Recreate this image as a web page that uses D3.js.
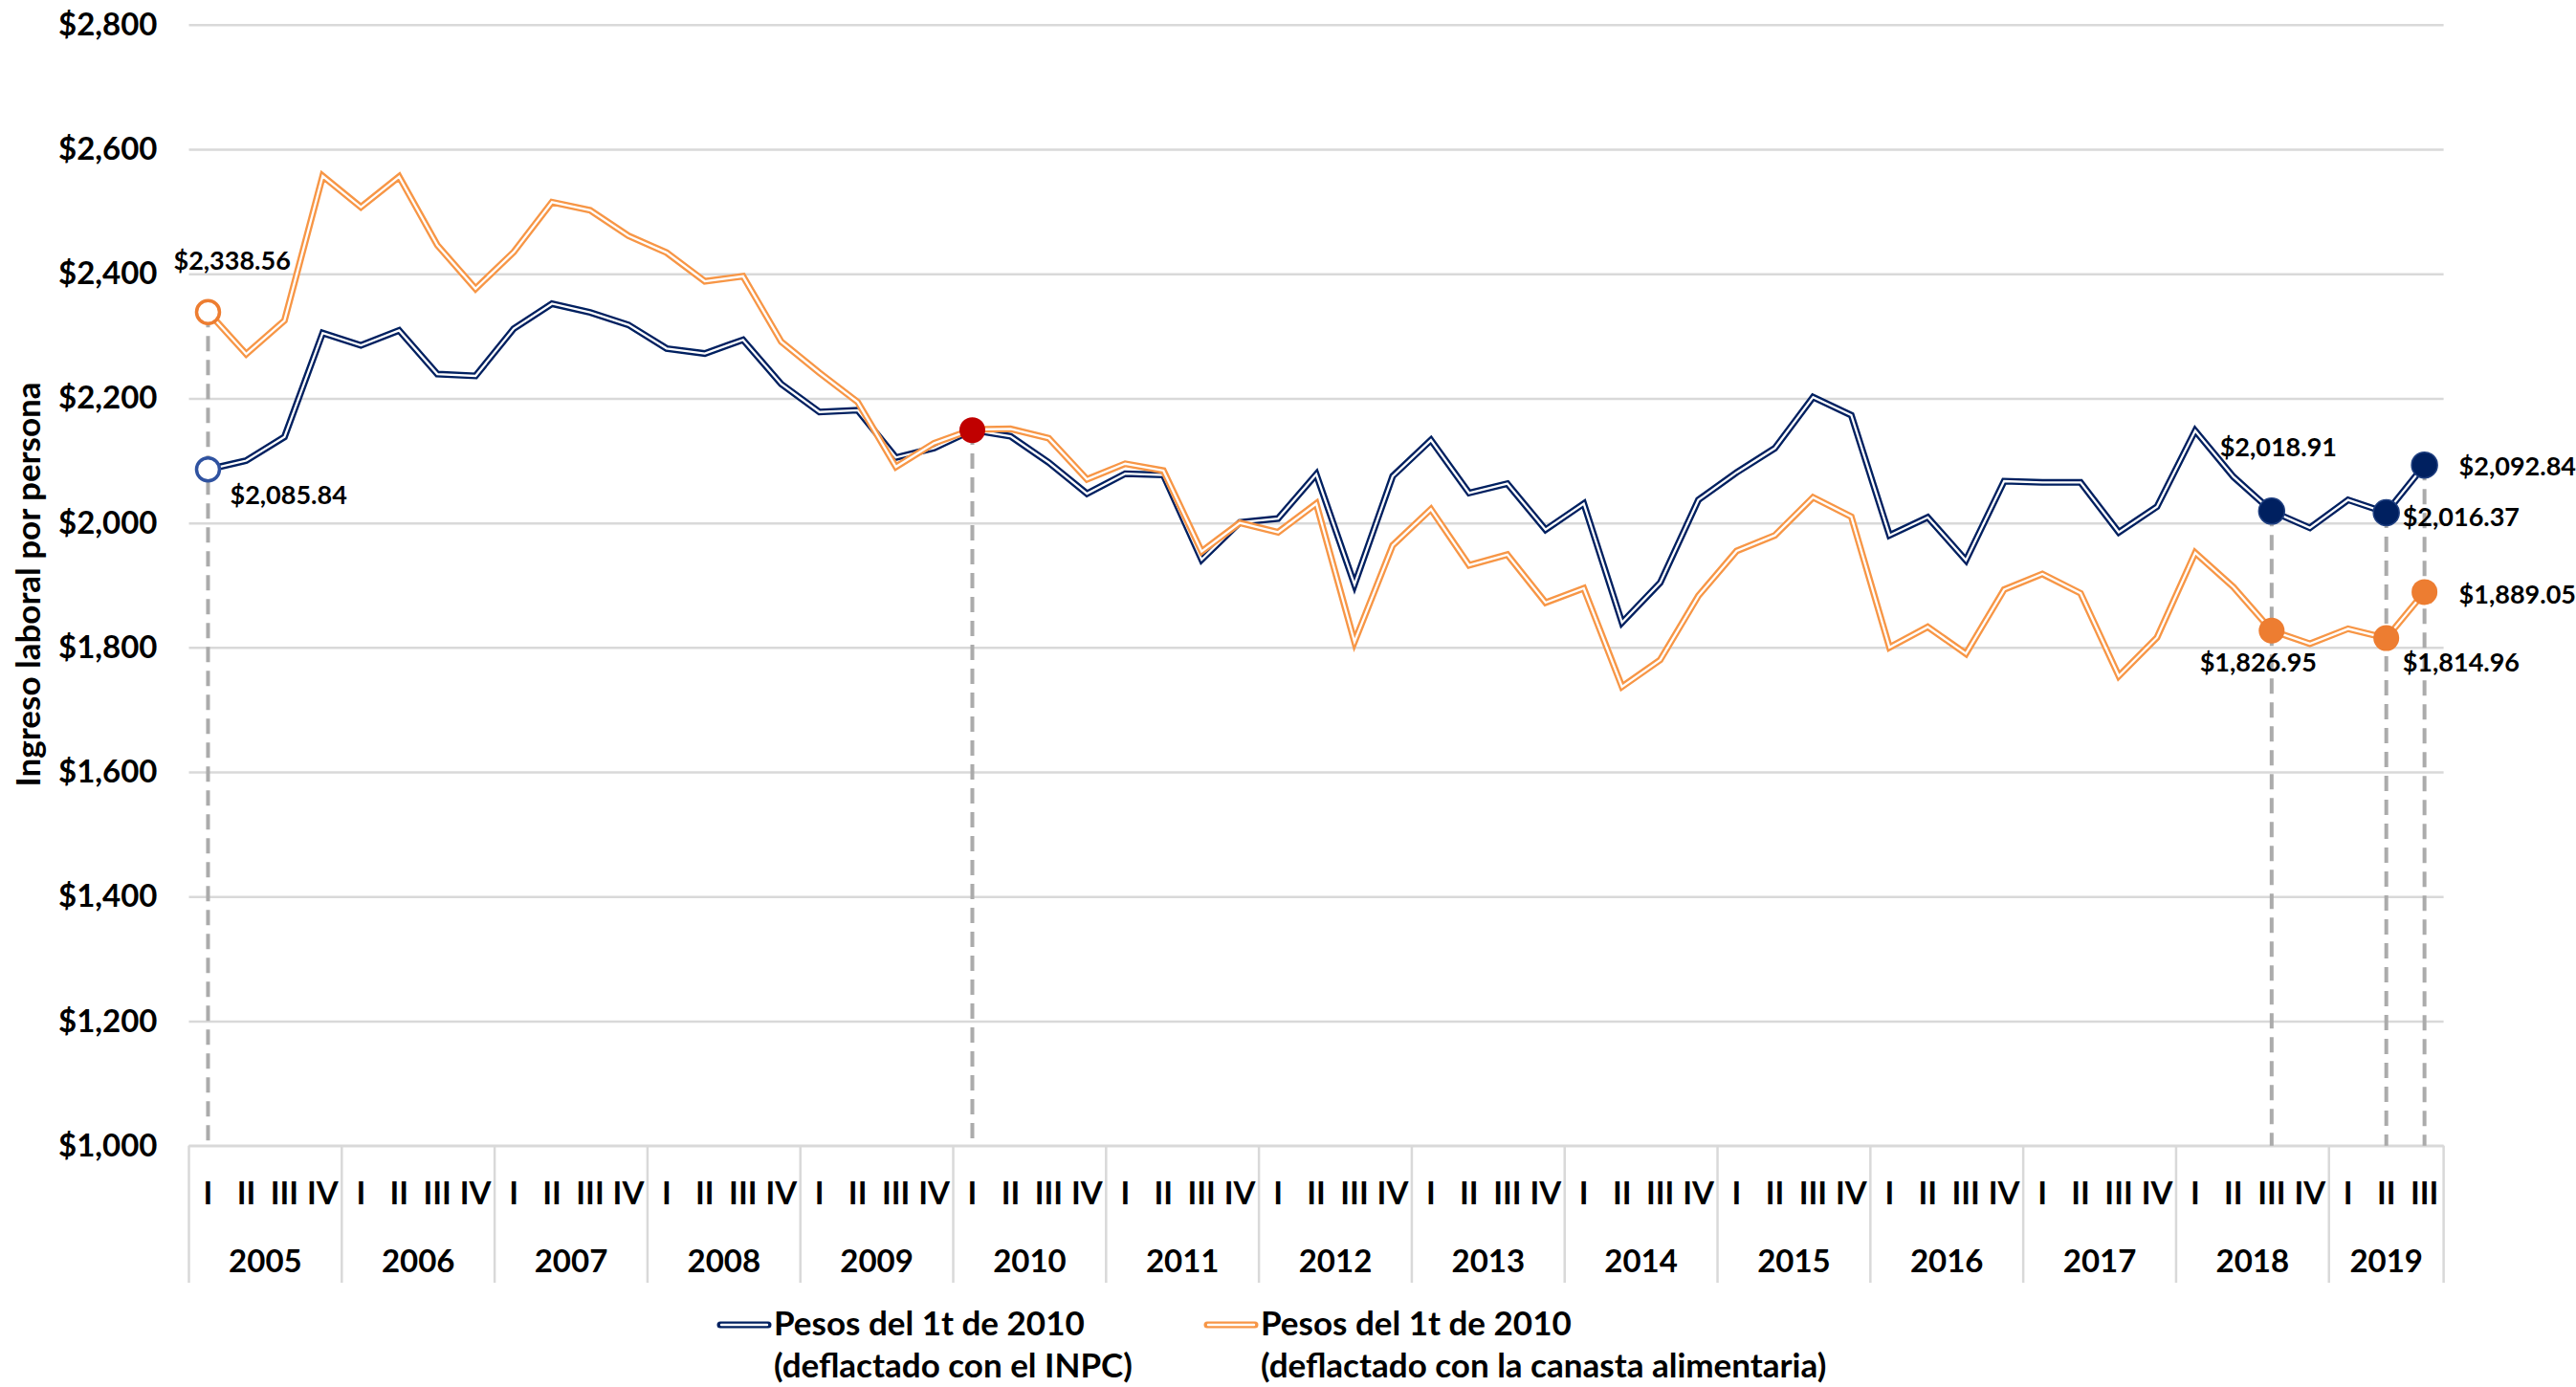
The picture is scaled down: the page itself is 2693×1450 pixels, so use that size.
<!DOCTYPE html>
<html>
<head>
<meta charset="utf-8">
<script src="https://cdn.jsdelivr.net/npm/d3@7"></script>
<style>
  html, body { margin: 0; padding: 0; background: #fff; }
  svg { display: block; font-family: Lato, 'Open Sans', sans-serif; font-weight: 700; }
</style>
</head>
<body>
<div id="chart"></div>
<script>
// categories
const years = [2005, 2006, 2007, 2008, 2009, 2010, 2011, 2012, 2013, 2014, 2015, 2016, 2017, 2018, 2019];
const quarters = ['I', 'II', 'III', 'IV'];
const lastYearQuarters = 3; // 2019 only up to III

// series (pesos del 1t de 2010)
const inpc = [
  2085.84, 2100, 2138, 2305, 2285, 2309, 2239, 2236, 2312, 2352, 2338, 2318,
  2280, 2272, 2294, 2223, 2178, 2181, 2105, 2120, 2149, 2139, 2097, 2047,
  2079, 2077, 1941, 2001, 2007, 2078, 1901, 2075, 2133, 2048, 2063, 1989,
  2031, 1840, 1904, 2037, 2081, 2120, 2202, 2173, 1980, 2009, 1940, 2067,
  2065, 2065, 1985, 2026, 2148, 2074, 2018.91, 1992, 2037, 2016.37, 2092.84
];
const canasta = [
  2338.56, 2271, 2325, 2557, 2507, 2556, 2446, 2376, 2435, 2515, 2502, 2461,
  2434, 2388, 2396, 2291, 2241, 2194, 2090, 2128, 2150, 2151, 2136, 2070,
  2095, 2084, 1954, 2000, 1985, 2031, 1809, 1964, 2022, 1932, 1949, 1872,
  1895, 1737, 1780, 1883, 1955, 1980, 2041, 2010, 1800, 1833, 1790, 1893,
  1918, 1887, 1754, 1816, 1952, 1897, 1826.95, 1806, 1830, 1814.96, 1889.05
];

// highlighted periods
const startIdx = [0];
const baseIdx = [20];
const recentIdx = [54, 57, 58];

// y ticks
const yTicks = [1000, 1200, 1400, 1600, 1800, 2000, 2200, 2400, 2600, 2800];

const legendLines = [
  ['Pesos del 1t de 2010', '(deflactado con el INPC)'],
  ['Pesos del 1t de 2010', '(deflactado con la canasta alimentaria)']
];

let width = 2693,
    height = 1450;

let plotLeft = 197.5,
    plotRight = 2554.6,
    plotTop = 25.8,
    plotBottom = 1197.7;

const navy = '#002060',
      orangeLine = '#F79646',
      orangeMark = '#ED7D31';

let periods = [];
years.forEach(function(yr, yi) {
  let nq = yi === years.length - 1 ? lastYearQuarters : 4;
  for (let q = 0; q < nq; q++) periods.push({ year: yr, q: quarters[q] });
});

let x = d3.scaleBand()
  .domain(d3.range(periods.length))
  .range([plotLeft, plotRight])
  .paddingInner(0).paddingOuter(0);

let cx = function(i) { return x(i) + x.bandwidth() / 2; };

let y = d3.scaleLinear()
  .domain([1000, 2800])
  .range([plotBottom, plotTop]);

let money = function(v) { return '$' + d3.format(',.2f')(v); };

let svg = d3.select('#chart').append('svg')
  .attr('width', width)
  .attr('height', height);

svg.append('rect').attr('width', width).attr('height', height).attr('fill', '#fff');

// gridlines
let grid = svg.append('g')
  .attr('transform', 'translate(' + plotLeft + ',0)')
  .call(d3.axisLeft(y).tickValues(yTicks).tickSize(-(plotRight - plotLeft)).tickFormat(''));
grid.select('.domain').remove();
grid.selectAll('line').attr('stroke', '#D9D9D9').attr('stroke-width', 2.5);

// y axis labels
let yAxis = svg.append('g')
  .attr('transform', 'translate(' + plotLeft + ',0)')
  .call(d3.axisLeft(y).tickValues(yTicks).tickSize(0).tickPadding(33)
    .tickFormat(function(d) { return '$' + d3.format(',')(d); }));
yAxis.select('.domain').remove();
yAxis.selectAll('text')
  .attr('font-size', 33)
  .attr('font-family', 'Lato, sans-serif')
  .attr('font-weight', 700)
  .attr('fill', '#000');

svg.append('text')
  .attr('transform', 'translate(42,611) rotate(-90)')
  .attr('text-anchor', 'middle')
  .attr('font-size', 35)
  .attr('fill', '#000')
  .text('Ingreso laboral por persona');

// category axis box
let catBottom = 1341;
svg.append('line')
  .attr('x1', plotLeft).attr('x2', plotRight)
  .attr('y1', plotBottom).attr('y2', plotBottom)
  .attr('stroke', '#D9D9D9').attr('stroke-width', 2.5);

let yearStarts = [];
periods.forEach(function(p, i) { if (p.q === 'I') yearStarts.push(i); });

svg.append('g').selectAll('line')
  .data(yearStarts.concat([periods.length]))
  .enter().append('line')
    .attr('x1', function(i) { return i < periods.length ? x(i) : plotRight; })
    .attr('x2', function(i) { return i < periods.length ? x(i) : plotRight; })
    .attr('y1', plotBottom).attr('y2', catBottom)
    .attr('stroke', '#D9D9D9').attr('stroke-width', 2.5);

let xAxis = svg.append('g')
  .attr('transform', 'translate(0,' + plotBottom + ')')
  .call(d3.axisBottom(x).tickSize(0).tickPadding(0)
    .tickFormat(function(i) { return periods[i].q; }));
xAxis.select('.domain').remove();
xAxis.selectAll('text')
  .attr('y', 61)
  .attr('dy', 0)
  .attr('font-size', 33)
  .attr('font-family', 'Lato, sans-serif')
  .attr('font-weight', 700)
  .attr('fill', '#000');

svg.append('g').selectAll('text')
  .data(yearStarts)
  .enter().append('text')
    .attr('x', function(i, k) {
      let end = k + 1 < yearStarts.length ? yearStarts[k + 1] : periods.length;
      return (x(i) + (end < periods.length ? x(end) : plotRight)) / 2;
    })
    .attr('y', 1330)
    .attr('text-anchor', 'middle')
    .attr('font-size', 33)
    .text(function(i) { return periods[i].year; });

// dashed guides
let guideIdx = startIdx.concat(baseIdx, recentIdx);
svg.append('g').selectAll('line')
  .data(guideIdx)
  .enter().append('line')
    .attr('x1', cx).attr('x2', cx)
    .attr('y1', function(i) { return y(Math.max(inpc[i], canasta[i])); })
    .attr('y2', plotBottom)
    .attr('stroke', '#ABABAB')
    .attr('stroke-width', 4)
    .attr('stroke-dasharray', '16 9');

// double lines
let line = d3.line()
  .x(function(d, i) { return cx(i); })
  .y(function(d) { return y(d); });

function doubleLine(values, color) {
  let g = svg.append('g');
  g.append('path')
    .attr('d', line(values))
    .attr('fill', 'none')
    .attr('stroke', color)
    .attr('stroke-width', 7)
    .attr('stroke-linejoin', 'miter');
  g.append('path')
    .attr('d', line(values))
    .attr('fill', 'none')
    .attr('stroke', '#fff')
    .attr('stroke-width', 2.3)
    .attr('stroke-linejoin', 'miter');
}

doubleLine(inpc, navy);
doubleLine(canasta, orangeLine);

// markers
let marks = svg.append('g');

marks.selectAll('.start-inpc')
  .data(startIdx)
  .enter().append('circle')
    .attr('cx', cx).attr('cy', function(i) { return y(inpc[i]); })
    .attr('r', 12)
    .attr('fill', '#fff').attr('stroke', '#2F52A0').attr('stroke-width', 3.5);

marks.selectAll('.start-canasta')
  .data(startIdx)
  .enter().append('circle')
    .attr('cx', cx).attr('cy', function(i) { return y(canasta[i]); })
    .attr('r', 12)
    .attr('fill', '#fff').attr('stroke', orangeMark).attr('stroke-width', 3.5);

marks.selectAll('.base')
  .data(baseIdx)
  .enter().append('circle')
    .attr('cx', cx).attr('cy', function(i) { return y(inpc[i]); })
    .attr('r', 13.5)
    .attr('fill', '#C00000');

marks.selectAll('.recent-inpc')
  .data(recentIdx)
  .enter().append('circle')
    .attr('cx', cx).attr('cy', function(i) { return y(inpc[i]); })
    .attr('r', 13.5)
    .attr('fill', navy).attr('stroke', '#1F3F80').attr('stroke-width', 1.5);

marks.selectAll('.recent-canasta')
  .data(recentIdx)
  .enter().append('circle')
    .attr('cx', cx).attr('cy', function(i) { return y(canasta[i]); })
    .attr('r', 13.5)
    .attr('fill', orangeMark);

// data labels: [index, series, dx, dy, anchor]
let labelSpots = [
  [0, 'c', -36, -54, 'start'],
  [0, 'i', 23, 27, 'start'],
  [54, 'i', 7, -67, 'middle'],
  [54, 'c', -14, 33, 'middle'],
  [57, 'i', 17, 4, 'start'],
  [57, 'c', 17, 25, 'start'],
  [58, 'i', 36, 1, 'start'],
  [58, 'c', 36, 2, 'start']
];

svg.append('g').selectAll('text')
  .data(labelSpots)
  .enter().append('text')
    .attr('x', function(d) { return cx(d[0]) + d[2]; })
    .attr('y', function(d) { return y((d[1] === 'i' ? inpc : canasta)[d[0]]) + d[3]; })
    .attr('dy', '0.36em')
    .attr('text-anchor', function(d) { return d[4]; })
    .attr('font-size', 27)
    .attr('fill', '#000')
    .text(function(d) { return money((d[1] === 'i' ? inpc : canasta)[d[0]]); });

// legend
let legendX = [750, 1259],
    legendColors = [navy, orangeLine];

let legend = svg.append('g').selectAll('g')
  .data(legendLines)
  .enter().append('g')
    .attr('transform', function(d, i) { return 'translate(' + legendX[i] + ',0)'; });

legend.append('line')
  .attr('x1', 3).attr('x2', 53).attr('y1', 1385).attr('y2', 1385)
  .attr('stroke', function(d, i) { return legendColors[i]; })
  .attr('stroke-width', 7).attr('stroke-linecap', 'round');
legend.append('line')
  .attr('x1', 4).attr('x2', 52).attr('y1', 1385).attr('y2', 1385)
  .attr('stroke', '#fff')
  .attr('stroke-width', 2.4).attr('stroke-linecap', 'round');

legend.append('text')
  .attr('x', 59).attr('y', 1396)
  .attr('font-size', 35)
  .text(function(d) { return d[0]; });
legend.append('text')
  .attr('x', 59).attr('y', 1440)
  .attr('font-size', 35)
  .text(function(d) { return d[1]; });
</script>
</body>
</html>
